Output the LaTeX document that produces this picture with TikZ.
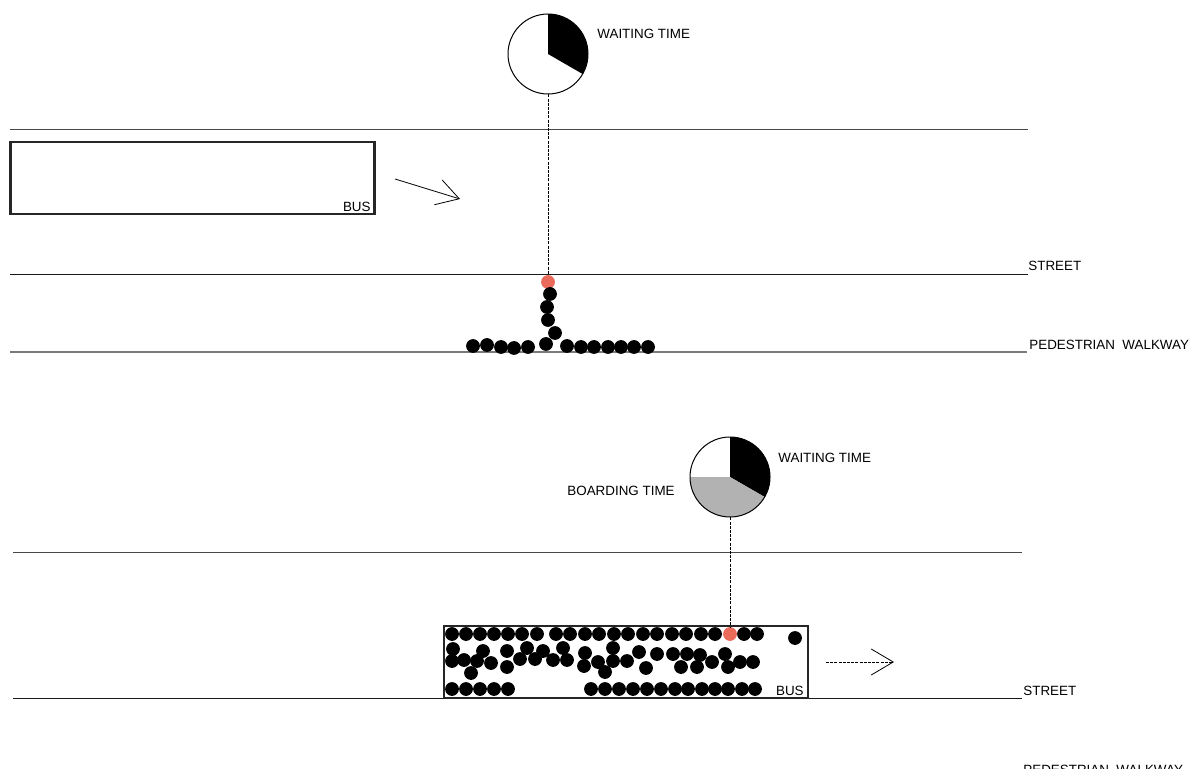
\documentclass[tikz,border=0pt]{standalone}
\usepackage{fontspec}
\setmainfont{Liberation Sans}
\usetikzlibrary{arrows.meta,positioning}
\definecolor{road}{HTML}{1A1A1A}
\definecolor{kerb}{HTML}{7A7A7A}
\definecolor{frame}{HTML}{262626}
\definecolor{door}{HTML}{EA6B5A}
\definecolor{board}{HTML}{B2B2B2}

\begin{document}
\begin{tikzpicture}[x=0.5pt,y=-0.5pt,>={Straight Barb[length=11pt,width=13pt]},font=\fontsize{6.7}{8}\selectfont,
  lbl/.style={anchor=base west,inner sep=0pt},
  dot/.style={circle,fill=black,inner sep=0pt,minimum size=6.9pt},
  clock/.style={circle,inner sep=0pt,minimum size=40pt},
  bus/.style={draw=frame,line width=1.4pt,inner sep=0pt,minimum width=182pt,minimum height=36pt},
  wire/.style={line width=0.4pt,dash pattern=on 1.5pt off 0.6pt}]
\useasboundingbox (0,0) rectangle (1197,769);
% upper scene: waiting at the stop
\draw[road!80,line width=0.5pt] (10,130) -- (1028,130);
\draw[road,line width=0.5pt] (10,275) -- (1028,275);
\draw[kerb,line width=0.9pt] (10,352) -- (1027,352);
\node[lbl] (street1) at (1028,271) {STREET};
\node[lbl] (walk1) at (1029,350) {PEDESTRIAN\ \ WALKWAY};
\node[bus] (bus1) at (192.5,178) {};
\node[anchor=base east,inner sep=0pt] (tag1) at (371,212) {BUS};
\coordinate (go1) at (395,179);
\coordinate (to1) at (460,199);
\draw[->,line width=0.4pt] (go1) -- (to1);
\node[clock] (clock1) at (548,54) {};
\fill (clock1.center) -- ++(90:20pt) arc[start angle=90,end angle=-30,radius=20pt] -- cycle;
\draw[line width=0.5pt] (clock1.center) circle[radius=20pt];
\node[lbl] (wait1) at (597,39) {WAITING TIME};
\node[dot,fill=door] (door1) at (548,282) {};
\draw[wire] (clock1.south) -- (door1.north);
\foreach \x/\y [count=\i] in {550/294,547/307,548/320,555/333,546/344}
  \node[dot] (line\i) at (\x,\y) {};
\foreach \x/\y [count=\i] in {473/346,487/345,501/347,514/348,528/347,567/346,581/347,594/347,608/347,621/347,634/347,648/347}
  \node[dot] (kerb\i) at (\x,\y) {};
% lower scene: boarding the bus
\draw[road!80,line width=0.5pt] (13,552) -- (1022,552);
\draw[road,line width=0.5pt] (13,698) -- (1022,698);
\node[lbl] (street2) at (1023,695) {STREET};
\node[lbl] (walk2) at (1023,774) {PEDESTRIAN\ \ WALKWAY};
\node[bus,fill=white] (bus2) at (626,662) {};
\node[anchor=base east,inner sep=0pt] (tag2) at (804,695) {BUS};
\coordinate (go2) at (826,662);
\coordinate (to2) at (894,662);
\draw[->,wire] (go2) -- (to2);
\node[clock] (clock2) at (730,477) {};
\fill (clock2.center) -- ++(90:20pt) arc[start angle=90,end angle=-30,radius=20pt] -- cycle;
\fill[board] (clock2.center) -- ++(-30:20pt) arc[start angle=-30,end angle=-180,radius=20pt] -- cycle;
\draw[line width=0.5pt] (clock2.center) circle[radius=20pt];
\node[lbl] (wait2) at (778,462) {WAITING TIME};
\node[lbl] (board2) at (567,495) {BOARDING TIME};
\foreach \x [count=\i] in {452,466,480,494,508,522,537,556,570,585,599,614,628,643,657,672,686,701,715,744,757}
  \node[dot] (top\i) at (\x,634) {};
\node[dot] (lone) at (795,638) {};
\foreach \x/\y [count=\i] in {453/649,483/651,507/651,527/648,543/651,563/648,585/653,613/648,639/652,657/654,673/654,687/654,700/655,725/654,
  452/661,464/660,477/661,491/663,471/673,507/667,520/659,535/659,553/660,567/660,584/666,598/662,613/661,627/661,605/672,646/668,681/667,697/667,712/662,728/667,740/662,753/662}
  \node[dot] (mid\i) at (\x,\y) {};
\foreach \x [count=\i] in {452,466,480,494,508,591,605,619,633,647,661,675,688,702,715,728,742,755}
  \node[dot] (low\i) at (\x,689) {};
\node[dot,fill=door] (door2) at (730,634) {};
\draw[wire] (clock2.south) -- (door2.north);
\end{tikzpicture}
\end{document}
